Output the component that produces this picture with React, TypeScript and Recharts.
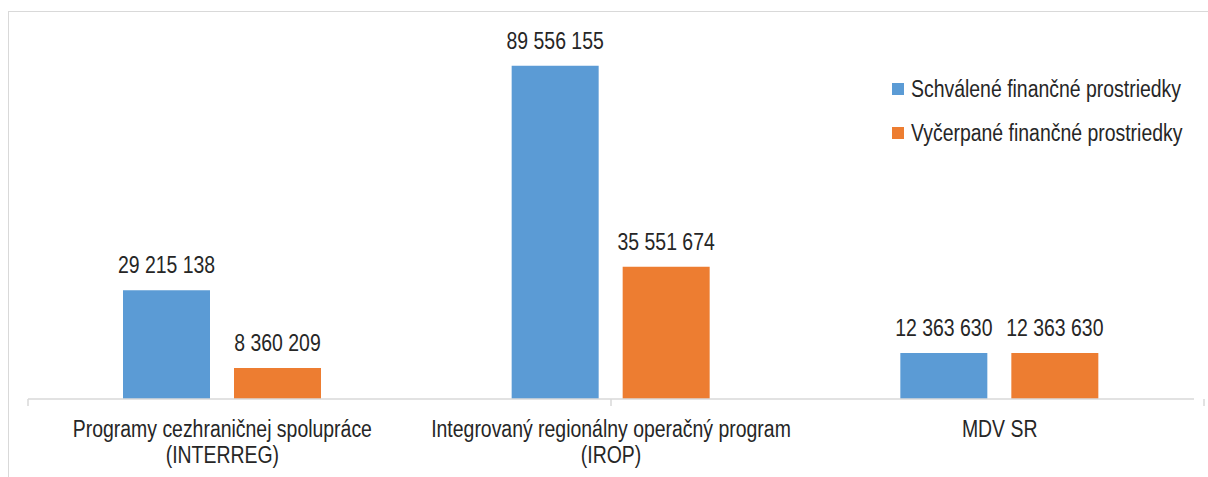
import React from "react";
import { BarChart, Bar, XAxis, YAxis, Legend, LabelList } from "recharts";

const categories: string[][] = [
  ["Programy cezhraničnej spolupráce", "(INTERREG)"],
  ["Integrovaný regionálny operačný program", "(IROP)"],
  ["MDV SR"],
];
const approved = [29215138, 89556155, 12363630];
const spent = [8360209, 35551674, 12363630];
const seriesNames = ["Schválené finančné prostriedky", "Vyčerpané finančné prostriedky"];
const seriesColors = ["#5B9BD5", "#ED7D31"];
const boundaryTicks = [0, 1, 2, 3];

const data = categories.map((lines, i) => ({
  name: lines.join("\n"),
  approved: approved[i],
  spent: spent[i],
}));

const FONT = "'Liberation Sans', Arial, sans-serif";
const TEXT = "#262626";
const GRID = "#d9d9d9";
const SX = 0.81;

const fmt = (v: number) => String(v).replace(/\B(?=(\d{3})+(?!\d))/g, " ");

const NarrowText = ({ x, y, anchor = "middle", children }: any) => (
  <g transform={`translate(${x},${y}) scale(${SX},1)`}>
    <text x={0} y={0} textAnchor={anchor} fill={TEXT} fontFamily={FONT} fontSize={24}>
      {children}
    </text>
  </g>
);

const CategoryTick = (props: any) => {
  const { x, y, payload } = props;
  const lines = String(payload.value).split("\n");
  return (
    <g>
      {lines.map((l, i) => (
        <NarrowText key={i} x={x} y={y + 38 + i * 26}>
          {l}
        </NarrowText>
      ))}
    </g>
  );
};

const BoundaryTick = (props: any) => {
  const { x, y } = props;
  return <line x1={x} x2={x} y1={y - 1} y2={y + 6} stroke={GRID} strokeWidth={1.5} />;
};

const ValueLabel = (props: any) => {
  const { x, y, width, value } = props;
  return (
    <NarrowText x={x + width / 2} y={y - 17}>
      {fmt(value)}
    </NarrowText>
  );
};

const LegendContent = (props: any) => {
  const { payload } = props;
  return (
    <svg width={310} height={90} style={{ display: "block", overflow: "visible" }}>
      {(payload || []).map((p: any, i: number) => (
        <g key={i}>
          <rect x={0} y={9 + i * 44} width={12} height={12} fill={p.color} />
          <NarrowText x={19} y={23 + i * 44} anchor="start">
            {p.value}
          </NarrowText>
        </g>
      ))}
    </svg>
  );
};

export default function App() {
  return (
    <div
      style={{
        position: "absolute",
        left: 0,
        top: 0,
        width: 1208,
        height: 477,
        overflow: "hidden",
        background: "#fff",
      }}
    >
      <div
        style={{
          position: "absolute",
          left: 8,
          top: 11,
          width: 1400,
          height: 700,
          border: "1.5px solid #d9d9d9",
        }}
      />
      <div style={{ position: "absolute", left: 0, top: 0 }}>
        <BarChart
          width={1208}
          height={477}
          data={data}
          margin={{ top: 27, right: 14, left: 28, bottom: 0 }}
          barSize={87}
          barGap={24}
        >
          <XAxis
            xAxisId="cat"
            dataKey="name"
            height={1}
            axisLine={{ stroke: GRID, strokeWidth: 1.5 }}
            tickLine={false}
            tickSize={0}
            tickMargin={0}
            interval={0}
            tick={<CategoryTick />}
          />
          <XAxis
            xAxisId="ticks"
            type="number"
            domain={[0, 3]}
            ticks={boundaryTicks}
            height={77}
            tickSize={0}
            tickMargin={0}
            axisLine={false}
            tickLine={false}
            tick={<BoundaryTick />}
          />
          <YAxis yAxisId="val" hide domain={[0, 100000000]} />
          <Legend
            layout="vertical"
            verticalAlign="top"
            align="right"
            content={<LegendContent />}
            wrapperStyle={{
              position: "absolute",
              left: 892,
              top: 74,
              width: 0,
              height: 0,
              overflow: "visible",
            }}
          />
          <Bar
            xAxisId="cat"
            yAxisId="val"
            dataKey="approved"
            name={seriesNames[0]}
            fill={seriesColors[0]}
            isAnimationActive={false}
          >
            <LabelList dataKey="approved" content={<ValueLabel />} />
          </Bar>
          <Bar
            xAxisId="cat"
            yAxisId="val"
            dataKey="spent"
            name={seriesNames[1]}
            fill={seriesColors[1]}
            isAnimationActive={false}
          >
            <LabelList dataKey="spent" content={<ValueLabel />} />
          </Bar>
        </BarChart>
      </div>
    </div>
  );
}
